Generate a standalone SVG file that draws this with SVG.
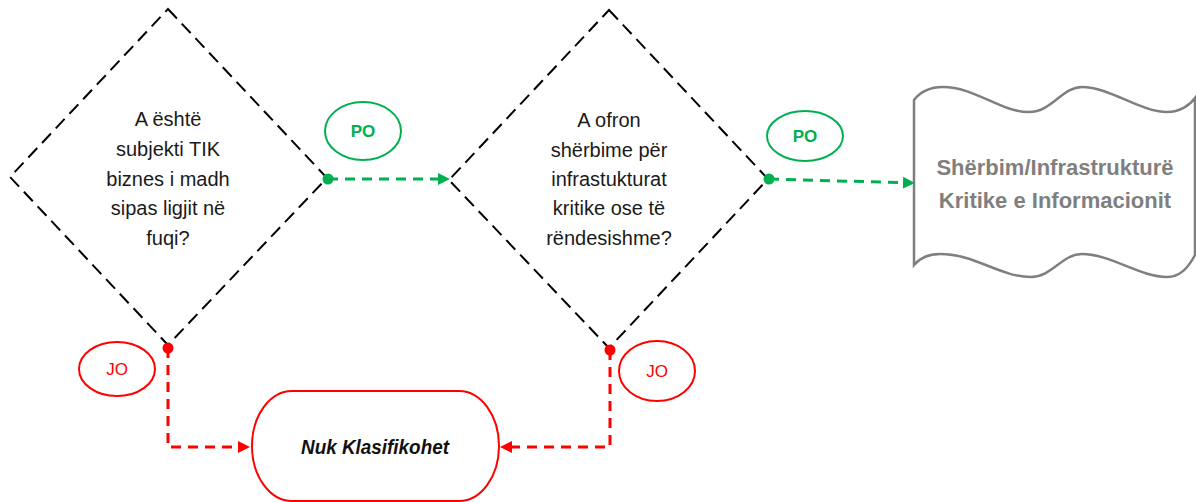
<svg xmlns="http://www.w3.org/2000/svg" width="1196" height="502" viewBox="0 0 1196 502">
<style>
.dia{fill:#fff;stroke:#000;stroke-width:2;stroke-dasharray:13 7}
.q{font-family:"Liberation Sans",Arial,sans-serif;font-size:20px;fill:#1a1a1a;text-anchor:middle}
.g{fill:none;stroke:#00b050;stroke-width:3;stroke-dasharray:10 7}
.r{fill:none;stroke:#ff0000;stroke-width:3;stroke-dasharray:10 7}
.gl{fill:#fff;stroke:#00b050;stroke-width:2}
.rl{fill:#fff;stroke:#ff0000;stroke-width:2}
.po{font-family:"Liberation Sans",Arial,sans-serif;font-size:17px;font-weight:bold;fill:#00b050;text-anchor:middle}
.jo{font-family:"Liberation Sans",Arial,sans-serif;font-size:17px;fill:#ff0000;text-anchor:middle}
</style>
<defs>
<marker id="ag" markerUnits="userSpaceOnUse" markerWidth="13" markerHeight="13" refX="0" refY="6.5" orient="auto"><path d="M0,0.5 L12,6.5 L0,12.5 Z" fill="#00b050"/></marker>
<marker id="ar" markerUnits="userSpaceOnUse" markerWidth="13" markerHeight="13" refX="0" refY="6.5" orient="auto"><path d="M0,0.5 L12,6.5 L0,12.5 Z" fill="#ff0000"/></marker>
</defs>
<g id="q1">
<polygon class="dia" points="168,9 327,178 168,345 10,177"/>
<text class="q" x="168" y="126">A është</text>
<text class="q" x="168" y="156">subjekti TIK</text>
<text class="q" x="168" y="186">biznes i madh</text>
<text class="q" x="168" y="215">sipas ligjit në</text>
<text class="q" x="168" y="245">fuqi?</text>
</g>
<g id="q2">
<polygon class="dia" points="609,10 768,179 609,348 449,180"/>
<text class="q" x="609" y="127">A ofron</text>
<text class="q" x="609" y="157">shërbime për</text>
<text class="q" x="609" y="186">infrastukturat</text>
<text class="q" x="609" y="215">kritike ose të</text>
<text class="q" x="609" y="245">rëndesishme?</text>
</g>
<g id="kii">
<path d="M914,100 C920,92 930,87 943,87 C975,87 1000,112 1029,112 C1052,112 1062,87 1082,87 C1110,87 1140,112 1167,112 C1180,112 1190,105 1195,98 L1195,255 C1188,268 1180,277 1167,277 C1140,277 1110,254 1082,254 C1062,254 1052,277 1031,277 C1000,277 975,254 940,254 C930,254 920,258 914,265 Z" fill="#fff" stroke="#7f7f7f" stroke-width="2.5"/>
<text x="1055" y="175" font-family="Liberation Sans,Arial,sans-serif" font-size="22" font-weight="bold" fill="#7f7f7f" text-anchor="middle">Shërbim/Infrastrukturë</text>
<text x="1055" y="208" font-family="Liberation Sans,Arial,sans-serif" font-size="22" font-weight="bold" fill="#7f7f7f" text-anchor="middle">Kritike e Informacionit</text>
</g>
<g id="nuk">
<rect x="252" y="391" width="247" height="110" rx="40" ry="55" fill="#fff" stroke="#ff0000" stroke-width="2"/>
<text x="375" y="454" font-family="Liberation Sans,Arial,sans-serif" font-size="21" font-weight="bold" font-style="italic" fill="#111" text-anchor="middle" textLength="148" lengthAdjust="spacingAndGlyphs">Nuk Klasifikohet</text>
</g>
<g id="connectors">
<path class="g" d="M328,179 L438,179" marker-end="url(#ag)"/>
<path class="g" d="M769,179 L903,182.7" marker-end="url(#ag)"/>
<path class="r" d="M168,348 V447 H238" marker-end="url(#ar)"/>
<path class="r" d="M610,350 V447 H512" marker-end="url(#ar)"/>
<circle cx="328" cy="179" r="5.5" fill="#00b050"/>
<circle cx="769" cy="179" r="5.5" fill="#00b050"/>
<circle cx="168" cy="348" r="5.5" fill="#ff0000"/>
<circle cx="610" cy="350" r="5.5" fill="#ff0000"/>
</g>
<g id="label-po1">
<ellipse class="gl" cx="363" cy="131" rx="38" ry="29"/>
<text class="po" x="363" y="137">PO</text>
</g>
<g id="label-po2">
<ellipse class="gl" cx="805" cy="136" rx="38" ry="25"/>
<text class="po" x="805" y="142">PO</text>
</g>
<g id="label-jo1">
<ellipse class="rl" cx="117" cy="369" rx="38" ry="27"/>
<text class="jo" x="117" y="375">JO</text>
</g>
<g id="label-jo2">
<ellipse class="rl" cx="657" cy="371" rx="38" ry="30"/>
<text class="jo" x="657" y="377">JO</text>
</g>
</svg>
